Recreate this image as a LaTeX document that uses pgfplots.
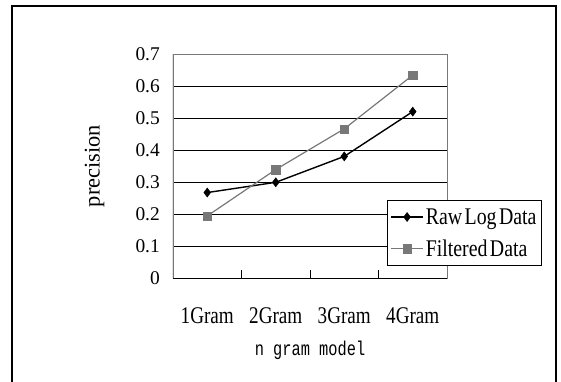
\documentclass[border=0pt]{standalone}
\usepackage{fontspec}
\setmainfont{Liberation Serif}
\newfontfamily\cond[FakeStretch=0.8, WordSpace=0.5]{Liberation Serif}
\newfontfamily\condl[FakeStretch=0.83, WordSpace=0.5]{Liberation Serif}
\newfontfamily\monofont[FakeStretch=0.77]{Liberation Mono}
\usepackage{pgfplots}
\pgfplotsset{compat=1.18}
\definecolor{fgray}{RGB}{120,120,120}
\begin{document}
\begin{tikzpicture}
\useasboundingbox (-173bp,-104bp) rectangle (388bp,278bp);
\draw[line width=1.2bp] (-161bp,-104bp) -- (-161bp,272bp) -- (383bp,272bp) -- (383bp,-104bp);
\begin{axis}[
  at={(0,0)}, anchor=south west,
  scale only axis, width=274bp, height=224bp,
  xmin=0.5, xmax=4.5, ymin=0, ymax=0.7,
  xtick={1,2,3,4},
  xticklabels={1Gram,2Gram,3Gram,4Gram},
  minor xtick={1.5,2.5,3.5},
  major x tick style={draw=none},
  minor x tick style={black, line width=0.8bp},
  minor tick length=8bp,
  ytick={0,0.1,...,0.7},
  yticklabels={0,0.1,0.2,0.3,0.4,0.5,0.6,0.7},
  major y tick style={draw=none},
  tick pos=bottom,
  ymajorgrids,
  grid style={black, line width=0.8bp},
  axis line style={fgray, line width=0.9bp},
  /pgf/number format/assume math mode=true,
  yticklabel style={inner sep=0pt, xshift=-13bp, font=\fontsize{19.5}{22}\selectfont},
  xticklabel style={inner sep=0pt, anchor=north, yshift=-29bp, font=\cond\fontsize{24}{26}\selectfont},
  ylabel={precision},
  ylabel style={at={(axis description cs:-0.268,0.5)}, anchor=base, font=\fontsize{22.5}{24}\selectfont},
  xlabel={n gram model},
  xlabel style={at={(axis description cs:0.5,-0.344)}, anchor=base, font=\monofont\fontsize{20}{22}\selectfont},
  legend style={at={(axis description cs:0.781,0.348)}, anchor=north west,
    draw=black, line width=0.8bp, fill=white, inner xsep=3bp, inner ysep=6bp,
    font=\condl\fontsize{24}{26}\selectfont, row sep=10bp,
    /tikz/every even column/.append style={column sep=0pt}},
  legend cell align=left,
  legend image code/.code={\draw[mark repeat=2,mark phase=2] plot coordinates {(0bp,0bp)(16bp,0bp)(32bp,0bp)};},
]
\addplot[black, line width=1.4bp, mark=diamond*, mark size=4.5bp, mark options={fill=black, line width=0.5bp}]
  coordinates {(1,0.267) (2,0.299) (3,0.380) (4,0.520)};
\addlegendentry{Raw Log Data}
\addplot[fgray, line width=1.2bp, mark=square*, mark size=4.2bp, mark options={fill=fgray, line width=0.3bp}]
  coordinates {(1,0.194) (2,0.339) (3,0.466) (4,0.634)};
\addlegendentry{Filtered Data}
\draw[black, line width=1bp] (rel axis cs:0,0) -- (rel axis cs:0,1);
\draw[black, line width=1bp] (rel axis cs:0,0) -- (rel axis cs:1,0);
\end{axis}
\end{tikzpicture}
\end{document}
